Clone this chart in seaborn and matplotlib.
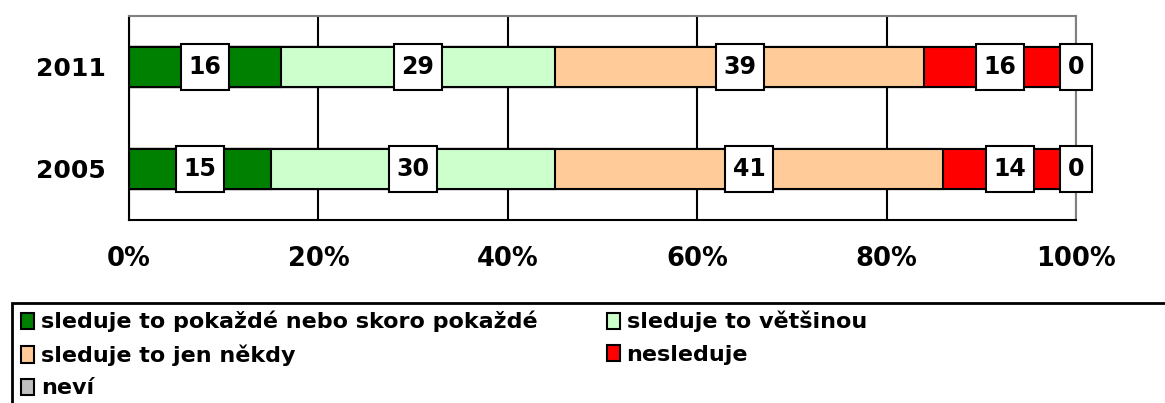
import numpy as np
import pandas as pd
import matplotlib
matplotlib.use("Agg")
import matplotlib.pyplot as plt
from matplotlib.patches import Rectangle, Patch
from matplotlib.path import Path
from matplotlib.ticker import FixedLocator, PercentFormatter
import seaborn as sns

# ========== DATA ==========
roky = ["2011", "2005"]
kategorie = ["sleduje to pokaždé nebo skoro pokaždé", "sleduje to většinou",
             "sleduje to jen někdy", "nesleduje", "neví"]
hodnoty = {
    "2011": [16, 29, 39, 16, 0],
    "2005": [15, 30, 41, 14, 0],
}
barvy = ["#008000", "#CCFFCC", "#FFCC99", "#FF0000", "#C0C0C0"]

# ========== DATAFRAME (kumulativni soucty pro skladany graf) ==========
radky = []
for rok in roky:
    kum = np.cumsum(hodnoty[rok])
    for i, kat in enumerate(kategorie):
        radky.append({"rok": rok, "kategorie": kat, "hodnota": hodnoty[rok][i],
                      "konec": kum[i], "zacatek": kum[i] - hodnoty[rok][i]})
df = pd.DataFrame(radky)


def ramecek(x0, y0, width, height, mutation_size):
    # obdelnik s vetsim svislym okrajem nez vodorovnym
    px, py = 0.32 * mutation_size, 0.48 * mutation_size
    x0, y0 = x0 - px, y0 - py
    x1, y1 = x0 + width + 2 * px, y0 + height + 2 * py
    return Path([(x0, y0), (x1, y0), (x1, y1), (x0, y1), (x0, y0)],
                [Path.MOVETO, Path.LINETO, Path.LINETO, Path.LINETO, Path.CLOSEPOLY])


sns.set_style("white")
plt.rcParams["font.family"] = ["DejaVu Sans"]
plt.rcParams["font.weight"] = "bold"
plt.rcParams["text.color"] = "black"
plt.rcParams["xtick.color"] = "black"
plt.rcParams["ytick.color"] = "black"

fig = plt.figure(figsize=(11.65, 4.03), dpi=100)
ax = fig.add_axes([129 / 1165, 1 - 220 / 403, (1076 - 129) / 1165, (220 - 16) / 403])

# bary od posledni kategorie k prvni, aby se prekryvaly
for i in reversed(range(len(kategorie))):
    sub = df[df["kategorie"] == kategorie[i]]
    sns.barplot(data=sub, x="konec", y="rok", order=roky, orient="y",
                color=barvy[i], saturation=1, width=0.4,
                edgecolor="black", linewidth=1.5, ax=ax, zorder=2)

# popisky
for j, rok in enumerate(roky):
    sub = df[df["rok"] == rok]
    for _, r in sub.iterrows():
        if r["kategorie"] == "neví":
            xpos = r["konec"]
        else:
            xpos = (r["zacatek"] + r["konec"]) / 2
        ax.text(xpos, j, f"{r['hodnota']:.0f}", ha="center", va="center",
                fontsize=17, fontweight="bold", color="black", zorder=5,
                bbox=dict(boxstyle=ramecek, fc="white", ec="black", lw=1.5))

# osy
ax.set_xlim(0, 100)
ax.set_ylim(1.5, -0.5)
ax.set_xticks([0, 20, 40, 60, 80, 100])
ax.xaxis.set_major_formatter(PercentFormatter(decimals=0))
ax.xaxis.grid(True, color="black", linewidth=1.5, zorder=0)
ax.set_axisbelow(True)
ax.set_xlabel("")
ax.set_ylabel("")
ax.tick_params(axis="x", length=7, width=1.5, color="black", labelsize=18.5, pad=12)
ax.tick_params(axis="y", which="major", length=0, labelsize=18, pad=16.5)
ax.yaxis.set_minor_locator(FixedLocator([-0.5, 0.5, 1.5]))
ax.tick_params(axis="y", which="minor", length=7, width=1.5, color="black")
for lab in ax.get_xticklabels() + ax.get_yticklabels():
    lab.set_fontweight("bold")
for s in ["left", "bottom"]:
    ax.spines[s].set_color("black")
    ax.spines[s].set_linewidth(1.5)
for s in ["top", "right"]:
    ax.spines[s].set_color("#808080")
    ax.spines[s].set_linewidth(1.5)

# legenda (po radcich jako v originale)
fig.patches.append(Rectangle((12 / 1165, -0.02), 1.0, 100 / 403 + 0.02,
                             transform=fig.transFigure, fill=False,
                             edgecolor="black", linewidth=2))
poradi = [0, 2, 4, 1, 3]
handles = [Patch(facecolor=barvy[i], edgecolor="black", linewidth=1.5, label=kategorie[i])
           for i in poradi]
fig.legend(handles=handles, loc="upper left", bbox_to_anchor=(21 / 1165, 92 / 403),
           ncol=2, frameon=False, handlelength=0.6, handleheight=0.75, handletextpad=0.3,
           columnspacing=3.1, labelspacing=0.55, borderaxespad=0, borderpad=0,
           prop={"size": 16, "weight": "bold"})

fig.savefig("out.png", dpi=100)
